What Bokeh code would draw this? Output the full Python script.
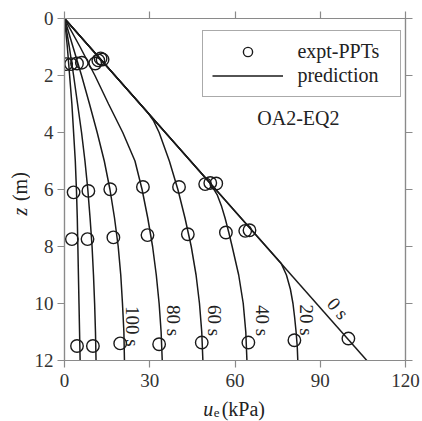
import math
from bokeh.plotting import figure
from bokeh.models import (Range1d, LinearAxis, Legend, LegendItem, FixedTicker,
                          CustomJSTickFormatter, Label)
from bokeh.layouts import row, column
from bokeh.core.properties import value
from bokeh.embed import file_html
from bokeh.resources import INLINE

# ---- data ----
x_ticks = [0, 30, 60, 90, 120]
y_ticks = [0, 2, 4, 6, 8, 10, 12]

# prediction isochrones: depth z (m) and excess pore pressure u_e (kPa)
z_0s = [0, 12]
u_0s = [0, 106.4]
z_20s = [0, 8.6, 9.0, 9.5, 10, 10.5, 11, 11.5, 12]
u_20s = [0, 76.3, 78.1, 79.5, 80.4, 81.0, 81.5, 81.9, 82.1]
z_40s = [0, 5.8, 6.2, 6.6, 7, 7.5, 8, 9, 10, 11, 12]
u_40s = [0, 51.4, 53.8, 55.3, 56.5, 57.8, 59.0, 61.3, 62.9, 63.8, 64.2]
z_60s = [0, 3.3, 3.6, 4, 5, 6, 7, 8, 9, 10, 11, 12]
u_60s = [0, 29.3, 31.4, 33.3, 36.9, 39.9, 42.4, 44.6, 46.3, 47.5, 48.3, 48.7]
z_grid = [0, 1, 2, 3, 4, 5, 6, 7, 8, 9, 10, 11, 12]
u_80s = [0, 5.5, 10.7, 15.5, 20.5, 24.8, 27.3, 29.3, 31.0, 32.3, 33.3, 34.0, 34.4]
u_100s = [0, 3.0, 6.0, 8.8, 11.5, 14.0, 16.0, 17.6, 18.9, 19.8, 20.4, 20.9, 21.1]
u_120s = [0, 1.7, 3.2, 4.6, 6.0, 7.2, 8.2, 9.0, 9.7, 10.2, 10.6, 10.9, 11.1]
u_140s = [0, 1.0, 1.8, 2.6, 3.2, 3.8, 4.2, 4.5, 4.7, 4.9, 5.1, 5.3, 5.5]

# measured PPT values
ppt_u = [0.6, 2.3, 4.4, 6.1, 10.8, 11.9, 12.7, 13.4,
         3.2, 8.4, 16.1, 27.6, 40.3, 49.5, 51.3, 53.4,
         2.6, 8.1, 17.2, 29.2, 43.4, 56.8, 63.6, 65.1,
         4.4, 10.0, 19.6, 33.3, 48.3, 64.7, 80.9, 99.9]
ppt_z = [1.6, 1.6, 1.58, 1.55, 1.58, 1.47, 1.40, 1.44,
         6.10, 6.05, 5.99, 5.91, 5.91, 5.81, 5.77, 5.79,
         7.74, 7.74, 7.68, 7.60, 7.57, 7.51, 7.45, 7.43,
         11.49, 11.49, 11.40, 11.43, 11.37, 11.37, 11.29, 11.23]

curve_labels = ["100 s", "80 s", "60 s", "40 s", "20 s", "0 s"]
label_u = [23.8, 38.2, 52.7, 69.6, 85.0, 96.2]
label_z = [10.8, 10.6, 10.6, 10.6, 10.58, 10.17]
label_angle = [-math.pi / 2] * 5 + [-0.86]

SERIF = "Liberation Serif"
INK = "#1a1a1a"
TXT = "#222222"
GREY = "#8a8a8a"

# ---------------- main plot ----------------
p = figure(width=392, height=396, x_range=Range1d(0, 120), y_range=Range1d(12, 0),
           output_backend="svg", toolbar_location=None,
           min_border_left=34, min_border_right=17, min_border_top=18, min_border_bottom=36)
p.background_fill_color = "white"
p.border_fill_color = "white"
p.outline_line_color = GREY
p.outline_line_width = 1.2
p.xgrid.visible = False
p.ygrid.visible = False

blank = CustomJSTickFormatter(code="return ''")
p.add_layout(LinearAxis(formatter=blank), "above")
p.add_layout(LinearAxis(formatter=blank), "right")

for ax in p.xaxis:
    ax.ticker = FixedTicker(ticks=x_ticks)
for ax in p.yaxis:
    ax.ticker = FixedTicker(ticks=y_ticks)
for ax in p.xaxis + p.yaxis:
    ax.axis_line_color = GREY
    ax.axis_line_width = 1.2
    ax.major_tick_line_color = GREY
    ax.major_tick_line_width = 1.2
    ax.major_tick_out = 7
    ax.major_tick_in = 0
    ax.minor_tick_line_color = None
    ax.major_label_text_font = SERIF
    ax.major_label_text_font_size = "19px"
    ax.major_label_text_color = "#333333"
p.above[0].major_label_text_font_size = "0px"
p.above[0].major_label_standoff = 0
p.right[0].major_label_text_font_size = "0px"
p.right[0].major_label_standoff = 0
p.below[0].major_label_standoff = 6
p.left[0].major_label_standoff = 4

lines = []
for u, z in [(u_0s, z_0s), (u_20s, z_20s), (u_40s, z_40s), (u_60s, z_60s),
             (u_80s, z_grid), (u_100s, z_grid), (u_120s, z_grid), (u_140s, z_grid)]:
    lines.append(p.line(u, z, line_color=INK, line_width=1.5))

circ = p.scatter(ppt_u, ppt_z, marker="circle", size=12.5, fill_color=None,
                 line_color=INK, line_width=1.4)

p.text(x=label_u, y=label_z, text=curve_labels, angle=label_angle,
       text_font=value(SERIF), text_font_size="19px", text_align="center",
       text_baseline="middle", text_color=TXT)

legend = Legend(items=[LegendItem(label="expt-PPTs", renderers=[circ]),
                       LegendItem(label="prediction", renderers=[lines[0]])],
                location=(138.4, 263.3), padding=9, spacing=1, margin=0,
                glyph_width=71, glyph_height=23, label_height=23, label_width=94,
                label_standoff=14, label_text_font=SERIF, label_text_font_size="20px",
                label_text_color=TXT, border_line_color="#555555",
                border_line_width=1.2, background_fill_color="white", background_fill_alpha=1)
p.add_layout(legend)

p.add_layout(Label(x=82.3, y=3.5, text="OA2-EQ2", text_font=SERIF, text_font_size="20px",
                   text_align="center", text_baseline="middle", text_color=TXT))

# ---------------- x-axis title strip (shares the kPa scale) ----------------
xl = figure(width=392, height=25, x_range=p.x_range, y_range=Range1d(25, 0),
            output_backend="svg", toolbar_location=None,
            x_axis_type=None, y_axis_type=None,
            min_border_left=34, min_border_right=17, min_border_top=0, min_border_bottom=0)
xl.title = None
xl.grid.visible = False
xl.outline_line_color = None
xl.background_fill_color = "white"
xl.border_fill_color = "white"
xl.text(x=[48.8], y=[12], text=["u"], text_font=value(SERIF), text_font_style="italic",
        text_font_size="20px", text_align="left", text_baseline="middle", text_color=TXT)
xl.text(x=[52.5], y=[16], text=["e"], text_font=value(SERIF),
        text_font_size="13px", text_align="left", text_baseline="middle", text_color=TXT)
xl.text(x=[55.3], y=[12], text=["(kPa)"], text_font=value(SERIF),
        text_font_size="20px", text_align="left", text_baseline="middle", text_color=TXT)

# ---------------- y-axis title strip (shares the depth scale) ----------------
yl = figure(width=30, height=421, x_range=Range1d(0, 30), y_range=p.y_range,
            output_backend="svg", toolbar_location=None,
            x_axis_type=None, y_axis_type=None,
            min_border_left=0, min_border_right=0, min_border_top=18, min_border_bottom=61)
yl.title = None
yl.grid.visible = False
yl.outline_line_color = None
yl.background_fill_color = "white"
yl.border_fill_color = "white"
yl.text(x=[19], y=[6.78], text=["z"], angle=[math.pi / 2], text_font=value(SERIF),
        text_font_style="italic", text_font_size="20px", text_align="center",
        text_baseline="middle", text_color=TXT)
yl.text(x=[19], y=[5.9], text=["(m)"], angle=[math.pi / 2], text_font=value(SERIF),
        text_font_size="20px", text_align="center", text_baseline="middle", text_color=TXT)

layout = row(yl, column(p, xl, spacing=0), spacing=0)
open("out.html", "w").write(file_html(layout, INLINE))
